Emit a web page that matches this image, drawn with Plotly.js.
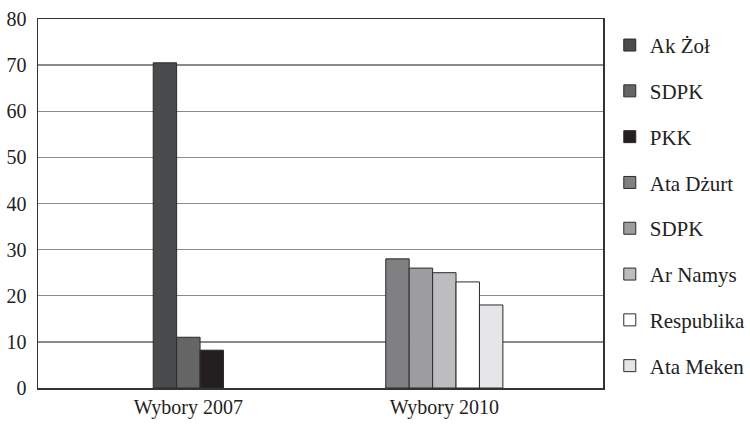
<!DOCTYPE html>
<html>
<head>
<meta charset="utf-8">
<script src="https://cdn.plot.ly/plotly-3.0.1.min.js"></script>
<style>html,body{margin:0;padding:0;background:#fff;}#chart{width:750px;height:428px;}</style>
</head>
<body>
<div id="chart"></div>
<script>
const categories = ["Wybory 2007", "Wybory 2010"];
const parties2007 = ["Ak Żoł", "SDPK", "PKK"];
const values2007 = [70.5, 11, 8.2];
const parties2010 = ["Ata Dżurt", "SDPK", "Ar Namys", "Respublika", "Ata Meken"];
const values2010 = [28, 26, 25, 23, 18];
const colors2007 = ["#4a4b4d", "#656566", "#231f20"];
const colors2010 = ["#808082", "#9d9d9f", "#bdbdc0", "#ffffff", "#e6e6e8"];

const slots2010 = ["a", "b", "c", "d", "e"];
const slots2007 = ["b", "c", "d"];
const FONT = "Times New Roman";

const traces = [];
// 2010 traces first so that the offset groups are ordered a..e
parties2010.forEach((p, i) => {
  traces.push({
    type: "bar", name: p, x: [categories[1]], y: [values2010[i]],
    offsetgroup: slots2010[i], legendgroup: "g10" + i,
    legendrank: parties2007.length + i + 1,
    marker: {color: colors2010[i], line: {color: "#2b2b2b", width: 1}},
    hoverinfo: "none"
  });
});
parties2007.forEach((p, i) => {
  traces.push({
    type: "bar", name: p, x: [categories[0]], y: [values2007[i]],
    offsetgroup: slots2007[i], legendgroup: "g07" + i,
    legendrank: i + 1,
    marker: {color: colors2007[i], line: {color: "#2b2b2b", width: 1}},
    hoverinfo: "none"
  });
});

const layout = {
  width: 750, height: 428,
  margin: {l: 38, r: 147, t: 19, b: 40, pad: 0, autoexpand: false},
  paper_bgcolor: "#ffffff", plot_bgcolor: "#ffffff",
  font: {family: FONT, size: 20, color: "#222"},
  barmode: "group", bargap: 0.5424, bargroupgap: 0,
  showlegend: true,
  legend: {
    x: 1.012, xanchor: "left", y: 0.984, yanchor: "top",
    font: {family: FONT, size: 21, color: "#222"},
    tracegroupgap: 15.5, traceorder: "grouped",
    bgcolor: "rgba(0,0,0,0)"
  },
  xaxis: {
    type: "category", categoryorder: "array", categoryarray: categories,
    range: [-0.5874, 1.6199],
    showline: true, linecolor: "#333", linewidth: 1.5, mirror: true,
    showgrid: false, zeroline: false, ticks: "",
    tickfont: {family: FONT, size: 20, color: "#222"}, fixedrange: true
  },
  yaxis: {
    range: [0, 80], dtick: 10, tick0: 0,
    showline: true, linecolor: "#333", linewidth: 1.5, mirror: true,
    showgrid: true, gridcolor: "#8a8a8a", gridwidth: 1.3, zeroline: false,
    ticks: "", ticklabelstandoff: 6,
    tickfont: {family: FONT, size: 20, color: "#222"}, fixedrange: true
  }
};

Plotly.newPlot("chart", traces, layout, {displayModeBar: false, staticPlot: true});
</script>
</body>
</html>
